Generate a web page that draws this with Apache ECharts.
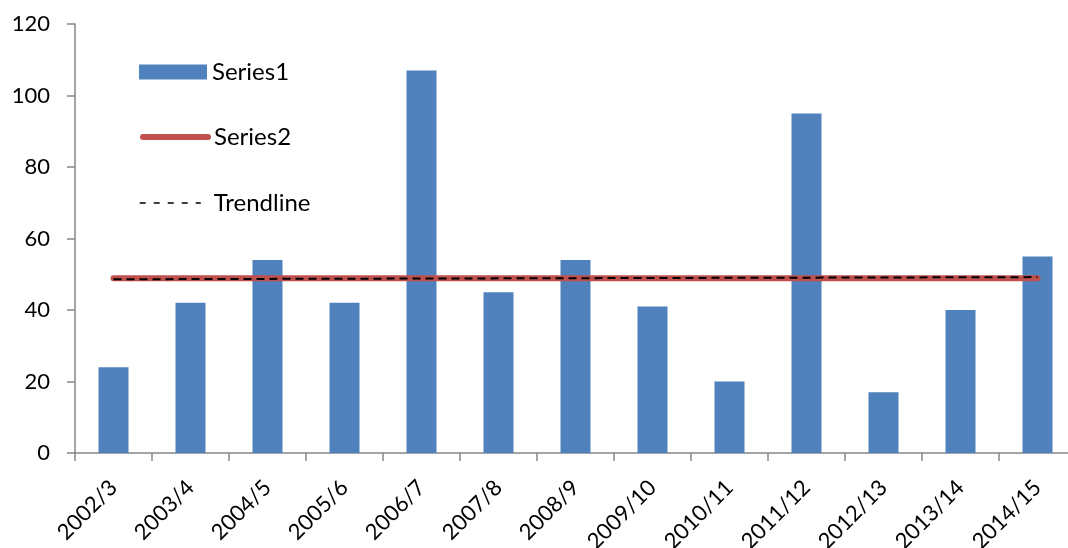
<!DOCTYPE html>
<html>
<head>
<meta charset="utf-8">
<script src="https://cdn.jsdelivr.net/npm/echarts@6/dist/echarts.min.js"></script>
<style>
  html, body { margin: 0; padding: 0; background: #fff; }
  #chart { width: 1068px; height: 548px; }
</style>
</head>
<body>
<div id="chart"></div>
<script>
// Seasons on the category axis
const seasons = ['2002/3', '2003/4', '2004/5', '2005/6', '2006/7', '2007/8', '2008/9',
  '2009/10', '2010/11', '2011/12', '2012/13', '2013/14', '2014/15'];

// Series1: yearly counts (bars)
const series1 = [24, 42, 54, 42, 107, 45, 54, 41, 20, 95, 17, 40, 55];

// Series2: flat reference level (line)
const series2 = [48.9, 48.9, 48.9, 48.9, 48.9, 48.9, 48.9, 48.9, 48.9, 48.9, 48.9, 48.9, 48.9];

// Trendline end points (first and last season)
const trendStart = 48.6;
const trendEnd = 49.2;

// Y axis ticks
const yTicks = { min: 0, max: 120, interval: 20 };

const trendData = seasons.map((_, i) =>
  i === 0 ? trendStart : (i === seasons.length - 1 ? trendEnd : null));

const FONT = 'Lato, "Open Sans", sans-serif';
const AXIS = '#868686';
const BLUE = '#4F81BD';
const RED = '#C0504D';

const legendText = { fontFamily: FONT, fontSize: 24, color: '#000', lineHeight: 26 };

const chart = echarts.init(document.getElementById('chart'), null, { renderer: 'canvas' });
chart.setOption({
  animation: false,
  backgroundColor: '#ffffff',
  grid: {
    left: 75, top: 24, width: 1001, height: 429,
    containLabel: false, outerBoundsMode: 'none'
  },
  legend: [
    {
      left: 139, top: 59, padding: 0,
      itemWidth: 68, itemHeight: 15,
      textStyle: legendText,
      data: [{ name: 'Series1', icon: 'rect' }]
    },
    {
      left: 140, top: 124, padding: 0,
      itemWidth: 65, itemHeight: 1,
      textStyle: Object.assign({}, legendText, { padding: [0, 0, 0, 1] }),
      data: [{
        name: 'Series2',
        itemStyle: { opacity: 0 },
        lineStyle: { width: 6, cap: 'round', color: RED }
      }]
    },
    {
      left: 139, top: 190, padding: 0,
      itemWidth: 61, itemHeight: 1,
      textStyle: Object.assign({}, legendText, { padding: [0, 0, 0, 8] }),
      data: [{
        name: 'Trendline',
        itemStyle: { opacity: 0 },
        lineStyle: { width: 1.5, type: [6, 8], color: '#000' }
      }]
    }
  ],
  xAxis: {
    type: 'category',
    data: seasons,
    boundaryGap: true,
    axisLine: { lineStyle: { color: AXIS, width: 1.5 } },
    axisTick: { show: true, length: 8, inside: false, lineStyle: { color: AXIS, width: 1.5 } },
    axisLabel: { rotate: 45, margin: 31, fontFamily: FONT, fontSize: 22, color: '#000', interval: 0 },
    splitLine: { show: false }
  },
  yAxis: {
    type: 'value',
    min: yTicks.min,
    max: yTicks.max,
    interval: yTicks.interval,
    axisLine: { show: true, lineStyle: { color: AXIS, width: 1.5 } },
    axisTick: { show: true, length: 8, inside: false, lineStyle: { color: AXIS, width: 1.5 } },
    axisLabel: { margin: 25, fontFamily: FONT, fontSize: 22, color: '#000' },
    splitLine: { show: false }
  },
  series: [
    {
      name: 'Series1',
      type: 'bar',
      data: series1,
      barWidth: 30,
      itemStyle: { color: BLUE }
    },
    {
      name: 'Series2',
      type: 'line',
      data: series2,
      symbol: 'none',
      lineStyle: { color: RED, width: 6, cap: 'round' },
      itemStyle: { color: RED }
    },
    {
      name: 'Trendline',
      type: 'line',
      data: trendData,
      connectNulls: true,
      symbol: 'none',
      lineStyle: { color: '#000000', width: 2, type: [8, 5] },
      itemStyle: { color: '#000000' }
    }
  ]
});
</script>
</body>
</html>
